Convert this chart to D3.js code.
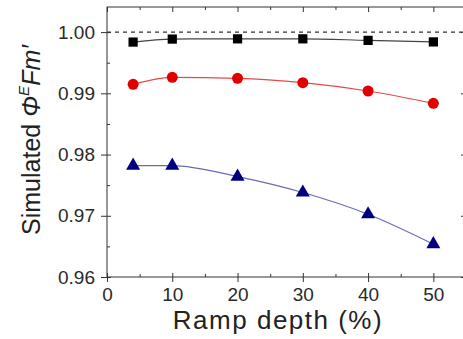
<!DOCTYPE html>
<html>
<head>
<meta charset="utf-8">
<script src="https://cdn.jsdelivr.net/npm/d3@7"></script>
<style>
  body { margin: 0; background: #fff; }
  svg { display: block; font-family: "Liberation Sans", Arial, sans-serif; }
</style>
</head>
<body>
<div id="chart"></div>
<script>
var width = 463,
    height = 339;

// data
var depth = [4, 10, 20, 30, 40, 50];
var blackSeries = [0.99837, 0.99886, 0.9989, 0.9989, 0.99865, 0.9984];
var redSeries = [0.99147, 0.99261, 0.99245, 0.99174, 0.99038, 0.98836];
var blueSeries = [0.97819, 0.97819, 0.9764, 0.9738, 0.97025, 0.96536];
var xTicks = [0, 10, 20, 30, 40, 50];
var yTicks = [0.96, 0.97, 0.98, 0.99, 1.00];
var xMinor = [5, 15, 25, 35, 45];
var yMinor = [0.965, 0.975, 0.985, 0.995];
var refLine = 1.0;

var x = d3.scaleLinear().domain([0, 55]).range([107, 466]);
var y = d3.scaleLinear().domain([0.96, 1.0041]).range([277, 7]);

var svg = d3.select("#chart").append("svg")
    .attr("width", width)
    .attr("height", height);

// frame
svg.append("rect")
    .attr("x", x(0)).attr("y", y(1.0041))
    .attr("width", x(55) - x(0)).attr("height", y(0.96) - y(1.0041))
    .attr("fill", "none").attr("stroke", "#333").attr("stroke-width", 1);

function addAxis(axis, tx, ty) {
  return svg.append("g")
      .attr("transform", "translate(" + tx + "," + ty + ")")
      .call(axis);
}

// labelled axes, ticks pointing out
addAxis(d3.axisBottom(x).tickValues(xTicks).tickSize(5).tickPadding(6).tickFormat(d3.format("d")), 0, y(0.96));
addAxis(d3.axisLeft(y).tickValues(yTicks).tickSize(6).tickPadding(6).tickFormat(d3.format(".2f")), x(0), 0);
// inward halves of the major ticks
addAxis(d3.axisBottom(x).tickValues(xTicks).tickSize(-4).tickFormat(""), 0, y(0.96));
addAxis(d3.axisLeft(y).tickValues(yTicks).tickSize(-4).tickFormat(""), x(0), 0);
addAxis(d3.axisBottom(x).tickValues(xTicks).tickSize(5).tickFormat(""), 0, y(1.0041));
addAxis(d3.axisLeft(y).tickValues(yTicks).tickSize(5).tickFormat(""), x(55), 0);
// minor ticks
addAxis(d3.axisBottom(x).tickValues(xMinor).tickSize(-3).tickFormat(""), 0, y(0.96));
addAxis(d3.axisBottom(x).tickValues(xMinor).tickSize(3).tickFormat(""), 0, y(1.0041));
addAxis(d3.axisLeft(y).tickValues(yMinor).tickSize(-3).tickFormat(""), x(0), 0);

svg.selectAll(".domain").remove();
svg.selectAll(".tick line").attr("stroke", "#333");
svg.selectAll(".tick text").attr("font-size", 19).attr("fill", "#2a2a2a");

// dashed reference
svg.append("line")
    .attr("x1", x(0)).attr("x2", x(55))
    .attr("y1", y(refLine)).attr("y2", y(refLine))
    .attr("stroke", "#333").attr("stroke-width", 1.2)
    .attr("stroke-dasharray", "4,4");

function drawSeries(values, lineColor, markColor, shape, size) {
  var pts = depth.map(function(d, i) { return [d, values[i]]; });
  var line = d3.line()
      .x(function(d) { return x(d[0]); })
      .y(function(d) { return y(d[1]); })
      .curve(d3.curveMonotoneX);
  svg.append("path")
      .attr("d", line(pts))
      .attr("fill", "none")
      .attr("stroke", lineColor)
      .attr("stroke-width", 1.2);
  svg.append("g").selectAll("path")
      .data(pts)
      .enter().append("path")
      .attr("d", d3.symbol().type(shape).size(size))
      .attr("transform", function(d) { return "translate(" + x(d[0]) + "," + y(d[1]) + ")"; })
      .attr("fill", markColor);
}

drawSeries(blackSeries, "#444", "#000", d3.symbolSquare, 85);
drawSeries(redSeries, "#e8484a", "#e00000", d3.symbolCircle, 95);
drawSeries(blueSeries, "#6a6ab8", "#000080", d3.symbolTriangle, 85);

// titles
svg.append("text")
    .attr("x", 278).attr("y", 329)
    .attr("text-anchor", "middle")
    .attr("font-size", 26)
    .attr("letter-spacing", 1.5)
    .attr("fill", "#222")
    .text("Ramp depth (%)");

var yt = svg.append("text")
    .attr("transform", "translate(40,140) rotate(-90)")
    .attr("text-anchor", "middle")
    .attr("font-size", 25)
    .attr("fill", "#222");
yt.append("tspan").text("Simulated ");
yt.append("tspan").attr("font-style", "italic").text("\u03A6");
yt.append("tspan").attr("font-style", "italic").attr("font-size", 15).attr("dy", -11).text("E");
yt.append("tspan").attr("font-style", "italic").attr("dy", 11).text("Fm\u2032");
</script>
</body>
</html>
